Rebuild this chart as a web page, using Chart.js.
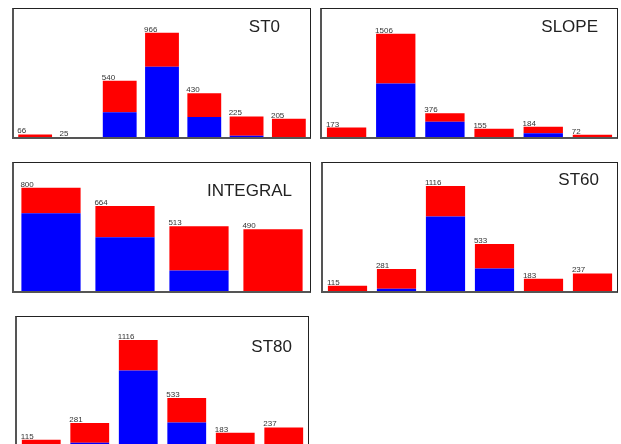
<!DOCTYPE html>
<html>
<head>
<meta charset="utf-8">
<script src="https://cdn.jsdelivr.net/npm/chart.js@4/dist/chart.umd.min.js"></script>
<style>
    body { margin: 0; background: #fff; width: 621px; height: 444px; overflow: hidden; position: relative; }
    .panel {
        position: absolute;
        box-sizing: border-box;
        border-top: 1px solid #222;
        border-right: 1px solid #222;
        border-left: 2px solid #555;
        border-bottom: 2px solid #555;
        background: #fff;
    }
    .panel canvas { display: block; }
</style>
</head>
<body>
<div class="panel" style="left:12px; top:8px; width:299px; height:131px;"><canvas id="st0Chart"></canvas></div>
<div class="panel" style="left:320px; top:8px; width:298px; height:131px;"><canvas id="slopeChart"></canvas></div>
<div class="panel" style="left:12px; top:162px; width:299px; height:131px;"><canvas id="integralChart"></canvas></div>
<div class="panel" style="left:321px; top:162px; width:297px; height:131px;"><canvas id="st60Chart"></canvas></div>
<div class="panel" style="left:15px; top:316px; width:294px; height:131px;"><canvas id="st80Chart"></canvas></div>
<script>
// totals (bar labels) and the blue part at the bottom of each bar
let st0Labels = ["1", "2", "3", "4", "5", "6", "7"];
let st0Totals = [66, 25, 540, 966, 430, 225, 205];
let st0Blue = [0, 0, 262, 665, 221, 54, 0];

let slopeLabels = ["1", "2", "3", "4", "5", "6"];
let slopeTotals = [173, 1506, 376, 155, 184, 72];
let slopeBlue = [0, 798, 255, 20, 91, 0];

let integralLabels = ["1", "2", "3", "4"];
let integralTotals = [800, 664, 513, 490];
let integralBlue = [610, 431, 182, 0];

let st60Labels = ["1", "2", "3", "4", "5", "6"];
let st60Totals = [115, 281, 1116, 533, 183, 237];
let st60Blue = [0, 84, 809, 288, 0, 0];

let st80Labels = ["1", "2", "3", "4", "5", "6"];
let st80Totals = [115, 281, 1116, 533, 183, 237];
let st80Blue = [0, 84, 809, 288, 0, 0];

// writes the total above each bar and the panel name in the corner
const panelText = {
    id: "panelText",
    afterDatasetsDraw(chart, args, opts) {
        let ctx = chart.ctx;
        let area = chart.chartArea;
        let meta = chart.getDatasetMeta(1);
        ctx.save();
        ctx.font = "8px 'Liberation Sans'";
        ctx.fillStyle = "#333";
        ctx.textAlign = "left";
        ctx.textBaseline = "alphabetic";
        meta.data.forEach((bar, i) => {
            let y = Math.min(bar.y, area.bottom);
            ctx.fillText(String(opts.totals[i]), bar.x - bar.width / 2 - 1, y - 1);
        });
        ctx.font = "17px 'Liberation Sans'";
        ctx.fillStyle = "#222";
        ctx.textAlign = "right";
        ctx.fillText(opts.name, chart.width - opts.right, opts.baseline);
        ctx.restore();
    }
};

function createPanelChart(chartID, name, labels, totals, blue, yMin, yMax, right, baseline) {
    let chartElement = document.getElementById(chartID);
    let red = totals.map((t, i) => t - blue[i]);

    let panelChart = new Chart(chartElement, {
        type: "bar",
        data: {
            labels: labels,
            datasets: [
                {
                    label: "blue",
                    backgroundColor: "#0000ff",
                    borderWidth: 0,
                    data: blue
                },
                {
                    label: "red",
                    backgroundColor: "#ff0000",
                    borderWidth: 0,
                    data: red
                }
            ]
        },
        options: {
            responsive: true,
            maintainAspectRatio: false,
            animation: false,
            layout: { padding: 0 },
            datasets: {
                bar: {
                    categoryPercentage: 1.0,
                    barPercentage: 0.8
                }
            },
            plugins: {
                legend: { display: false },
                tooltip: { enabled: false },
                panelText: {
                    totals: totals,
                    name: name,
                    right: right,
                    baseline: baseline
                }
            },
            scales: {
                x: {
                    stacked: true,
                    display: false,
                    grid: { display: false }
                },
                y: {
                    stacked: true,
                    display: false,
                    min: yMin,
                    max: yMax,
                    grid: { display: false }
                }
            }
        },
        plugins: [panelText]
    });
    return panelChart;
}

createPanelChart("st0Chart", "ST0", st0Labels, st0Totals, st0Blue, 43, 1176, 30, 23);
createPanelChart("slopeChart", "SLOPE", slopeLabels, slopeTotals, slopeBlue, 39, 1857, 19, 23);
createPanelChart("integralChart", "INTEGRAL", integralLabels, integralTotals, integralBlue, 30, 984, 18, 33);
createPanelChart("st60Chart", "ST60", st60Labels, st60Totals, st60Blue, 61, 1347, 18, 22);
createPanelChart("st80Chart", "ST80", st80Labels, st80Totals, st80Blue, 61, 1347, 16, 35);
</script>
</body>
</html>
